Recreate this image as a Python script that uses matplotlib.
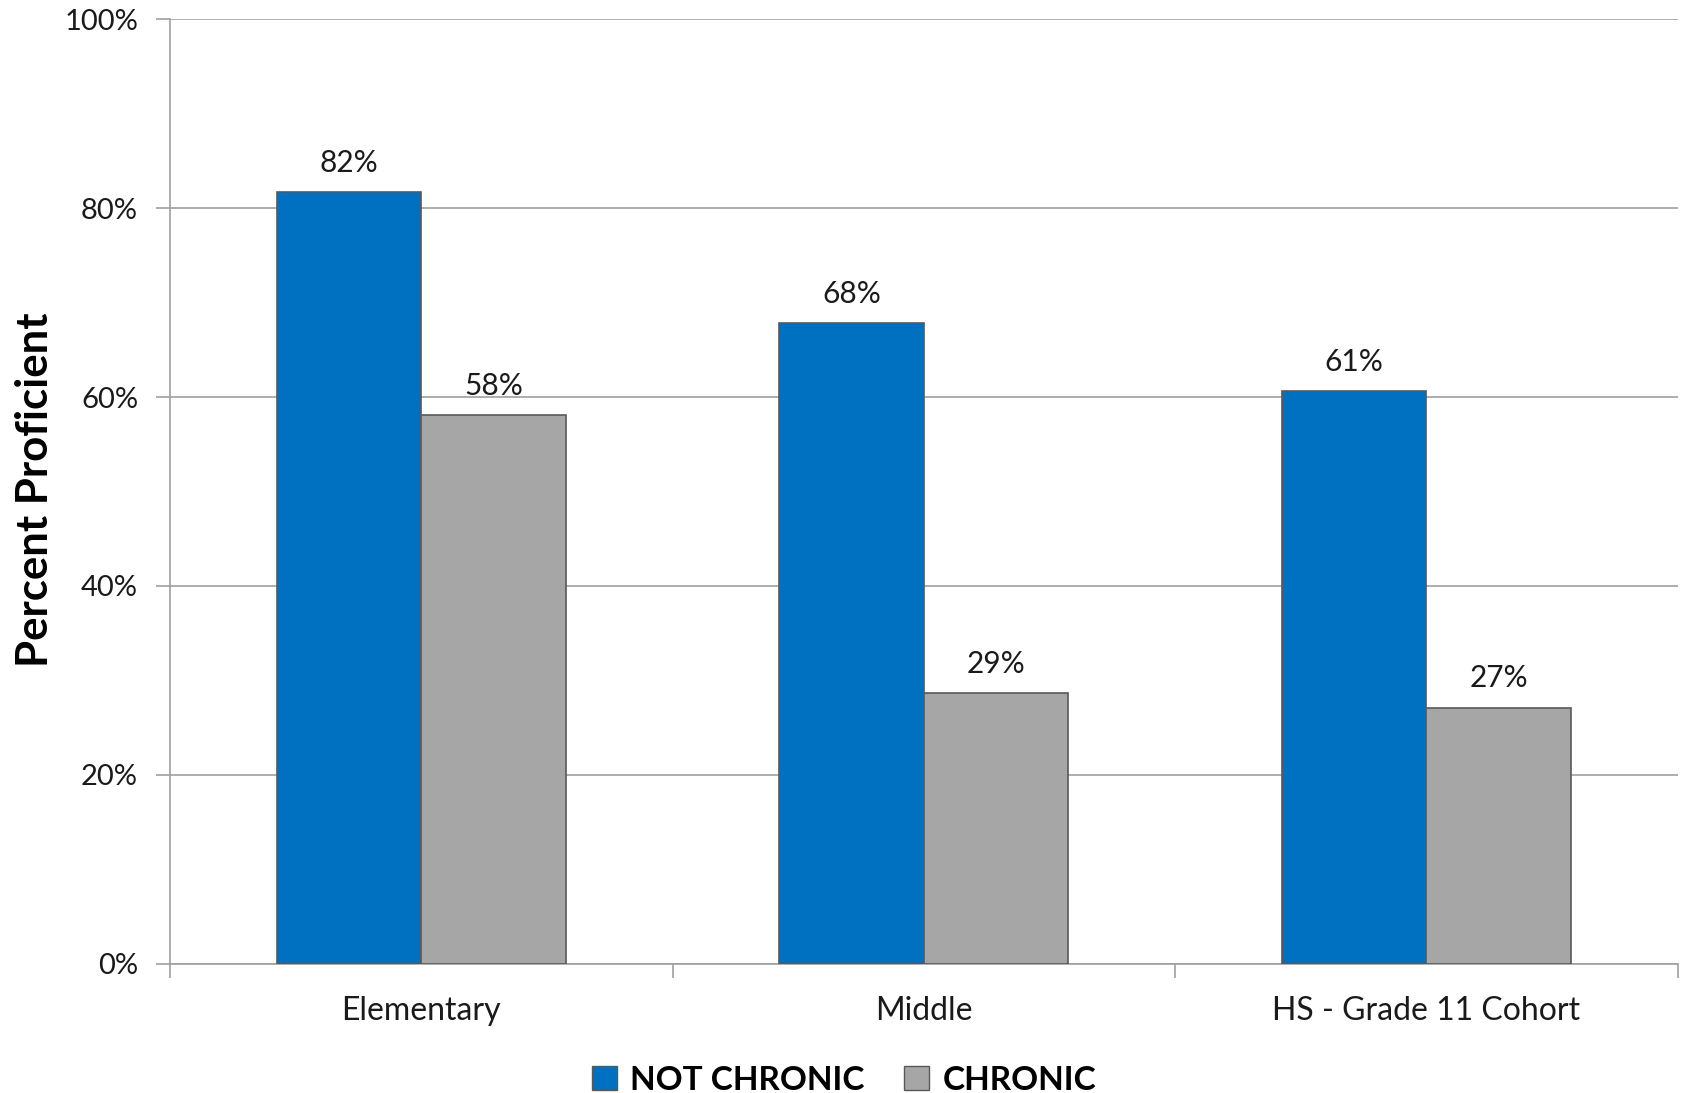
import matplotlib
matplotlib.use("Agg")
import matplotlib.pyplot as plt
from matplotlib.ticker import FuncFormatter, FixedLocator
from matplotlib.patches import Patch
import numpy as np

categories = ["Elementary", "Middle", "HS - Grade 11 Cohort"]
not_chronic = [81.7, 67.8, 60.6]
chronic = [58.1, 28.6, 27.1]
series_names = ["NOT CHRONIC", "CHRONIC"]
y_ticks = [0, 20, 40, 60, 80, 100]

BLUE = "#0070C0"
GRAY = "#A6A6A6"
EDGE = "#595959"
LINE = "#A0A0A0"

plt.rcParams["font.family"] = ["Lato", "DejaVu Sans"]

fig = plt.figure(figsize=(16.86, 10.93), dpi=100)
ax = fig.add_axes([170 / 1686, 1 - 963.5 / 1093, (1677.5 - 170) / 1686, (963.5 - 19.4) / 1093])

x = np.arange(len(categories))
w = 0.2875
b1 = ax.bar(x - w / 2, not_chronic, w, color=BLUE, edgecolor=EDGE, linewidth=1.2, zorder=3)
b2 = ax.bar(x + w / 2, chronic, w, color=GRAY, edgecolor=EDGE, linewidth=1.2, zorder=3)

for bars, vals in ((b1, not_chronic), (b2, chronic)):
    for rect, v in zip(bars, vals):
        ax.annotate(f"{v:.0f}%", (rect.get_x() + rect.get_width() / 2, v),
                    xytext=(0, 11), textcoords="offset points",
                    ha="center", va="bottom", fontsize=21.5, color="#1a1a1a")

ax.set_xlim(-0.5, len(categories) - 0.5)
ax.set_ylim(0, 100)
ax.yaxis.set_major_locator(FixedLocator(y_ticks))
ax.yaxis.set_major_formatter(FuncFormatter(lambda v, p: f"{v:.0f}%"))
ax.grid(axis="y", color=LINE, linewidth=1.2, zorder=0)

ax.set_xticks(x)
ax.set_xticklabels(categories, fontsize=23, color="#1a1a1a")
ax.set_xticks(np.arange(-0.5, len(categories)), minor=True)
ax.tick_params(axis="x", which="major", length=0, pad=23.5)
ax.tick_params(axis="x", which="minor", length=10, color=LINE, width=1.2)
ax.tick_params(axis="y", length=10, color=LINE, width=1.2, labelsize=21,
               labelcolor="#1a1a1a", pad=13)

for side in ("top", "right"):
    ax.spines[side].set_visible(False)
ax.spines["left"].set_color(LINE)
ax.spines["left"].set_linewidth(1.2)
ax.spines["bottom"].set_color(LINE)
ax.spines["bottom"].set_linewidth(1.2)

fig.text(35 / 1686, 1 - 490 / 1093, "Percent Proficient", rotation=90,
         ha="center", va="center", fontsize=31.5, fontweight="bold")

handles = [Patch(facecolor=BLUE, edgecolor=EDGE), Patch(facecolor=GRAY, edgecolor=EDGE)]
fig.legend(handles, series_names, loc="center", bbox_to_anchor=(844 / 1686, 1 - 1080 / 1093),
           ncol=2, frameon=False, prop={"size": 24, "weight": "bold"},
           handlelength=0.75, handleheight=0.75, handletextpad=0.4, columnspacing=1.2)

fig.savefig("out.png", dpi=100)
